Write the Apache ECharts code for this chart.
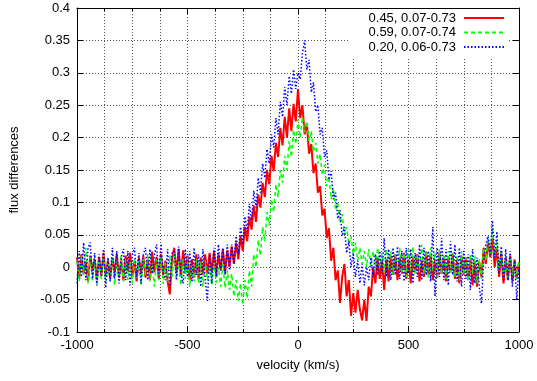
<!DOCTYPE html>
<html>
<head>
<meta charset="utf-8">
<script src="https://cdn.jsdelivr.net/npm/echarts@6/dist/echarts.min.js"></script>
<style>html,body{margin:0;padding:0;background:#fff}#c{width:537px;height:381px}</style>
</head>
<body>
<div id="c"></div>
<script>
const velocity = [-1000,-990,-980,-970,-960,-950,-940,-930,-920,-910,-900,-890,-880,-870,-860,-850,-840,-830,-820,-810,-800,-790,-780,-770,-760,-750,-740,-730,-720,-710,-700,-690,-680,-670,-660,-650,-640,-630,-620,-610,-600,-590,-580,-570,-560,-550,-540,-530,-520,-510,-500,-490,-480,-470,-460,-450,-440,-430,-420,-410,-400,-390,-380,-370,-360,-350,-340,-330,-320,-310,-300,-290,-280,-270,-260,-250,-240,-230,-220,-210,-200,-190,-180,-170,-160,-150,-140,-130,-120,-110,-100,-90,-80,-70,-60,-50,-40,-30,-20,-10,0,10,20,30,40,50,60,70,80,90,100,110,120,130,140,150,160,170,180,190,200,210,220,230,240,250,260,270,280,290,300,310,320,330,340,350,360,370,380,390,400,410,420,430,440,450,460,470,480,490,500,510,520,530,540,550,560,570,580,590,600,610,620,630,640,650,660,670,680,690,700,710,720,730,740,750,760,770,780,790,800,810,820,830,840,850,860,870,880,890,900,910,920,930,940,950,960,970,980,990,1000];

const red = [0.015,-0.018,0.020,-0.010,0.008,-0.022,0.018,-0.005,0.012,-0.020,
0.016,-0.012,0.022,-0.015,0.010,-0.018,0.014,-0.008,0.020,-0.016,
0.010,-0.020,0.018,-0.006,0.022,-0.014,0.008,-0.022,0.015,-0.010,
0.018,-0.016,0.012,-0.020,0.024,-0.008,0.016,-0.018,0.020,-0.012,
0.010,-0.022,-0.042,0.012,0.030,-0.010,0.028,-0.015,0.026,-0.008,
0.018,-0.020,0.012,-0.016,0.020,-0.018,0.015,-0.012,0.020,-0.010,
0.022,-0.008,0.025,-0.012,0.020,-0.005,0.028,-0.008,0.026,0.000,
0.032,0.005,0.038,0.012,0.048,0.025,0.062,0.040,0.078,0.058,
0.095,0.070,0.112,0.092,0.130,0.108,0.150,0.128,0.172,0.148,
0.192,0.170,0.215,0.188,0.232,0.200,0.245,0.210,0.252,0.225,
0.275,0.230,0.250,0.205,0.222,0.175,0.190,0.145,0.160,0.115,
0.125,0.080,0.090,0.045,0.060,0.010,0.030,-0.020,-0.005,-0.055,
-0.015,0.005,-0.045,-0.020,-0.075,-0.040,-0.070,-0.035,-0.065,-0.082,
-0.050,-0.083,-0.030,-0.045,0.000,-0.025,
0.015,-0.018,0.010,-0.035,0.012,-0.022,0.018,-0.012,0.020,-0.020,
0.015,-0.010,0.022,-0.018,0.012,-0.025,0.016,-0.008,0.020,-0.022,
0.010,-0.015,0.024,-0.012,0.018,-0.020,0.012,-0.016,0.022,-0.010,
0.016,-0.022,0.014,-0.008,0.020,-0.018,0.010,-0.025,0.018,-0.012,
0.015,-0.020,0.012,-0.028,0.010,-0.030,0.008,-0.015,0.030,0.005,
0.040,0.015,0.045,0.000,0.030,-0.015,0.022,-0.025,0.015,-0.020,
0.018,-0.022,0.012,-0.018,0.008];

const green = [0.010,-0.022,0.018,-0.012,0.030,-0.025,0.015,-0.020,0.008,-0.026,
0.012,-0.018,0.020,-0.024,0.006,-0.020,0.015,-0.028,0.010,-0.015,
0.018,-0.022,0.012,-0.020,0.008,-0.025,0.014,-0.018,0.010,-0.028,
0.016,-0.012,0.020,-0.022,0.006,-0.030,0.012,-0.020,0.015,-0.026,
0.008,-0.022,0.018,-0.015,0.022,-0.020,0.010,-0.028,0.012,-0.018,
0.015,-0.030,0.005,-0.022,0.012,-0.025,0.008,-0.030,0.010,-0.020,
0.002,-0.028,0.008,-0.024,0.000,-0.030,0.005,-0.032,-0.005,-0.035,
-0.010,-0.045,-0.020,-0.052,-0.025,-0.058,-0.020,-0.048,-0.005,-0.030,
0.020,0.000,0.042,0.018,0.062,0.040,0.085,0.065,0.105,0.085,
0.128,0.108,0.150,0.130,0.172,0.150,0.195,0.170,0.212,0.190,
0.228,0.200,0.232,0.208,0.225,0.195,0.210,0.178,0.192,0.160,
0.175,0.142,0.158,0.125,0.140,0.105,0.122,0.088,0.100,0.068,
0.082,0.050,0.062,0.035,0.048,0.020,0.038,0.010,0.030,0.005,
0.025,0.000,
0.028,0.002,0.025,-0.005,0.030,0.000,0.022,-0.008,0.028,-0.002,
0.025,-0.012,0.020,-0.005,0.030,-0.010,0.022,-0.015,0.028,-0.005,
0.032,-0.012,0.020,-0.008,0.035,-0.010,0.025,-0.018,0.030,-0.005,
0.022,-0.015,0.028,-0.010,0.020,-0.018,0.025,-0.008,0.022,-0.015,
0.018,-0.020,0.025,-0.012,0.015,-0.022,0.020,-0.010,0.018,-0.025,
0.012,-0.018,0.030,0.010,0.045,0.020,0.060,0.015,0.040,-0.005,
0.025,-0.015,0.018,-0.020,0.015,-0.012,0.010,-0.018,0.012];

const blue = [-0.025,0.025,-0.015,0.038,-0.020,0.030,0.038,-0.018,0.022,-0.028,
0.020,-0.015,0.028,-0.032,0.015,-0.022,0.030,-0.018,0.025,-0.025,
0.015,0.028,-0.020,0.025,-0.028,0.018,0.030,-0.015,0.022,-0.025,
0.020,0.030,-0.020,0.028,-0.010,0.018,0.035,-0.012,0.036,-0.008,
-0.020,0.028,-0.032,0.022,0.025,-0.018,0.032,-0.010,-0.025,0.028,
-0.015,0.025,-0.022,0.030,-0.012,0.020,-0.030,0.028,-0.018,-0.052,
0.020,-0.025,0.030,-0.015,0.035,-0.005,0.030,-0.012,0.035,-0.005,
0.035,0.005,0.048,0.020,0.062,0.035,0.078,0.055,0.098,0.072,
0.118,0.092,0.138,0.115,0.160,0.138,0.182,0.160,0.205,0.185,
0.230,0.205,0.255,0.232,0.278,0.250,0.295,0.268,0.305,0.275,
0.300,0.290,0.330,0.350,0.305,0.320,0.270,0.285,0.240,0.250,
0.205,0.215,0.170,0.180,0.135,0.148,0.105,0.115,0.075,0.088,
0.048,0.062,0.022,0.040,0.000,0.022,-0.015,0.010,-0.025,0.005,
-0.028,0.000,
-0.020,0.015,-0.015,0.020,-0.012,0.025,-0.010,0.045,-0.015,0.028,
-0.020,0.030,-0.012,0.032,-0.018,0.025,-0.022,0.030,-0.010,0.028,
-0.025,0.022,-0.015,0.035,-0.020,0.030,-0.012,0.025,-0.022,0.062,
-0.045,0.030,-0.015,0.045,-0.020,0.028,-0.028,0.040,-0.012,0.035,
-0.022,0.030,-0.030,0.025,-0.018,0.020,-0.035,0.028,-0.025,0.015,
-0.030,-0.056,0.010,0.035,0.048,0.020,0.072,0.015,0.055,-0.010,
0.032,-0.022,0.028,-0.020,0.025,-0.030,0.010,-0.050,0.000];

const seriesNames = ['0.45, 0.07-0.73', '0.59, 0.07-0.74', '0.20, 0.06-0.73'];
const xTicks = [-1000, -500, 0, 500, 1000];
const yTicks = [-0.1, -0.05, 0, 0.05, 0.1, 0.15, 0.2, 0.25, 0.3, 0.35, 0.4];

const FONT = 'Liberation Sans, Arial, Helvetica, sans-serif';
const pairs = arr => arr.map((y, i) => [velocity[i], y]);

const gridLine = { show: true, lineStyle: { color: '#555', width: 1, type: [1, 2] } };

const chart = echarts.init(document.getElementById('c'), null, { renderer: 'canvas' });
chart.setOption({
  animation: false,
  backgroundColor: '#fff',
  grid: { left: 77, right: 18, top: 8, bottom: 49 },
  legend: {
    orient: 'vertical',
    right: 28,
    top: 9,
    align: 'right',
    itemWidth: 40,
    itemHeight: 10,
    itemGap: 0.5,
    padding: [2, 4, 3, 20],
    backgroundColor: '#fff',
    itemStyle: { color: 'transparent', borderColor: 'transparent', borderWidth: 0, opacity: 0 },
    textStyle: { fontFamily: FONT, fontSize: 13, lineHeight: 14, color: '#000', padding: [0, 3, 0, 0] },
    data: seriesNames
  },
  xAxis: [{
    type: 'value',
    min: xTicks[0], max: xTicks[xTicks.length - 1], interval: 500,
    name: 'velocity (km/s)', nameLocation: 'middle', nameGap: 27,
    nameTextStyle: { fontFamily: FONT, fontSize: 13, color: '#000' },
    axisLine: { show: true, onZero: false, lineStyle: { color: '#000', width: 1 } },
    axisTick: { show: true, inside: true, length: 6, lineStyle: { color: '#000' } },
    minorTick: { show: true, splitNumber: 4, length: 3, lineStyle: { color: '#000' } },
    axisLabel: { fontFamily: FONT, fontSize: 13, color: '#000', margin: 7, formatter: v => String(v) },
    splitLine: gridLine,
    minorSplitLine: gridLine
  }, {
    type: 'value', position: 'top',
    min: xTicks[0], max: xTicks[xTicks.length - 1], interval: 500,
    axisLine: { show: true, onZero: false, lineStyle: { color: '#000', width: 1 } },
    axisTick: { show: true, inside: true, length: 6, lineStyle: { color: '#000' } },
    minorTick: { show: true, splitNumber: 4, length: 3, lineStyle: { color: '#000' } },
    axisLabel: { show: false },
    splitLine: { show: false }
  }],
  yAxis: [{
    type: 'value',
    min: yTicks[0], max: yTicks[yTicks.length - 1], interval: 0.05,
    name: 'flux differences', nameLocation: 'middle', nameGap: 56, nameRotate: 90,
    nameTextStyle: { fontFamily: FONT, fontSize: 13, color: '#000' },
    axisLine: { show: true, onZero: false, lineStyle: { color: '#000', width: 1 } },
    axisTick: { show: true, inside: true, length: 6, lineStyle: { color: '#000' } },
    axisLabel: { fontFamily: FONT, fontSize: 13, color: '#000', margin: 7 },
    splitLine: gridLine
  }, {
    type: 'value', position: 'right',
    min: yTicks[0], max: yTicks[yTicks.length - 1], interval: 0.05,
    axisLine: { show: true, onZero: false, lineStyle: { color: '#000', width: 1 } },
    axisTick: { show: true, inside: true, length: 6, lineStyle: { color: '#000' } },
    axisLabel: { show: false },
    splitLine: { show: false }
  }],
  series: [
    { name: seriesNames[0], type: 'line', data: pairs(red), symbol: 'none', showSymbol: false,
      lineStyle: { color: '#ff0000', width: 2, type: 'solid' }, itemStyle: { color: '#ff0000' }, z: 2 },
    { name: seriesNames[1], type: 'line', data: pairs(green), symbol: 'none', showSymbol: false,
      lineStyle: { color: '#00ff00', width: 1.5, type: [4, 3] }, itemStyle: { color: '#00ff00' }, z: 3 },
    { name: seriesNames[2], type: 'line', data: pairs(blue), symbol: 'none', showSymbol: false,
      lineStyle: { color: '#0000ff', width: 1.5, type: [1.5, 2] }, itemStyle: { color: '#0000ff' }, z: 4 }
  ]
});
</script>
</body>
</html>
